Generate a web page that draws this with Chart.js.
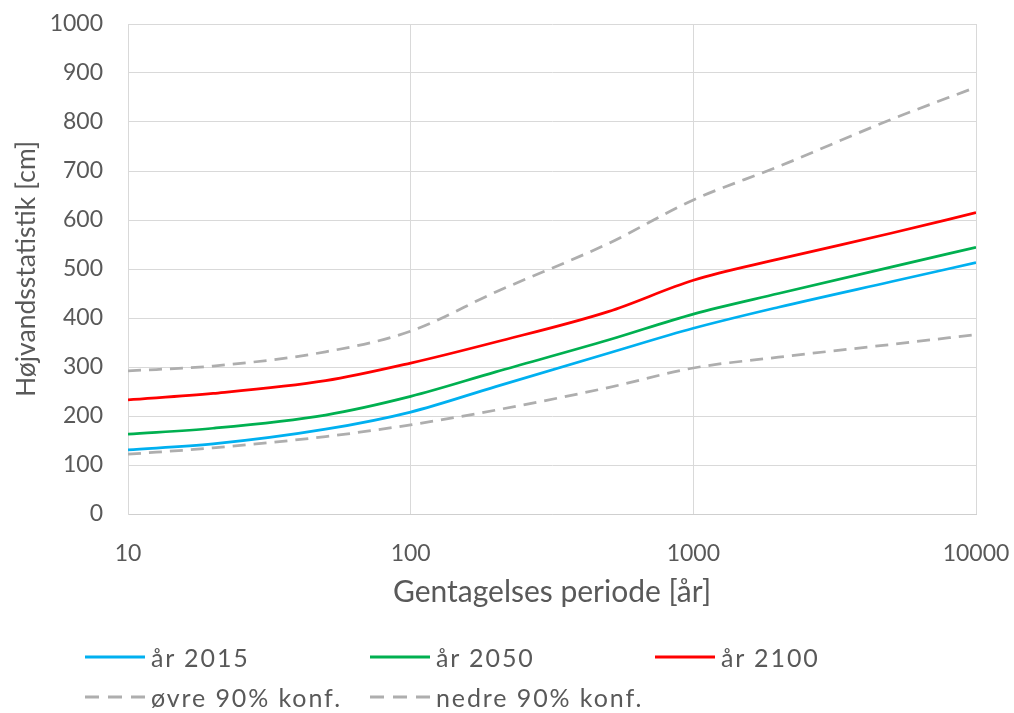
<!DOCTYPE html>
<html>
<head>
<meta charset="utf-8">
<script src="https://cdn.jsdelivr.net/npm/chart.js@4"></script>
<style>
  body { margin: 0; background: #fff; }
  #wrap { position: relative; width: 1014px; height: 713px; }
  #legend { position: absolute; left: 85px; top: 637px; display: grid; grid-template-columns: 285px 285px 285px; font-family: Lato, sans-serif; font-size: 25px; letter-spacing: 1.9px; color: #595959; }
  .item { display: flex; align-items: center; height: 40px; white-space: nowrap; }
  .item svg { margin-right: 6px; }
</style>
</head>
<body>
<div id="wrap">
  <canvas id="chart" width="1014" height="713"></canvas>
  <div id="legend"></div>
</div>
<script>
var periods = [10, 20, 50, 100, 200, 500, 1000, 2000, 5000, 10000];
var aar2015 = [131, 143, 173, 208, 260, 328, 379, 422, 474, 513];
var aar2050 = [163, 175, 202, 240, 290, 355, 408, 450, 504, 544];
var aar2100 = [233, 246, 272, 308, 351, 413, 477, 520, 573, 615];
var oevre = [292, 302, 331, 373, 453, 552, 641, 709, 805, 871];
var nedre = [122, 135, 158, 182, 212, 258, 298, 320, 346, 366];
var xTicks = [10, 100, 1000, 10000];

var textColor = '#595959';
var font = 'Lato';

function pts(arr) {
  return periods.map(function (p, i) { return { x: p, y: arr[i] }; });
}

var ctx = document.getElementById('chart');
var myChart = new Chart(ctx, {
  type: 'line',
  data: {
    datasets: [
      { label: 'år 2015', data: pts(aar2015), borderColor: '#00b0f0' },
      { label: 'år 2050', data: pts(aar2050), borderColor: '#00b050' },
      { label: 'år 2100', data: pts(aar2100), borderColor: '#ff0000' },
      { label: 'øvre 90% konf.', data: pts(oevre), borderColor: '#aeaeae', borderDash: [13, 8] },
      { label: 'nedre 90% konf.', data: pts(nedre), borderColor: '#aeaeae', borderDash: [13, 8] }
    ]
  },
  options: {
    responsive: false,
    animation: false,
    layout: { padding: { left: 0, top: 24, right: 38, bottom: 100 } },
    elements: {
      line: { borderWidth: 2.75, cubicInterpolationMode: 'monotone', fill: false },
      point: { radius: 0 }
    },
    plugins: { legend: { display: false }, tooltip: { enabled: false } },
    scales: {
      x: {
        type: 'logarithmic',
        min: 10,
        max: 10000,
        afterBuildTicks: function (scale) {
          scale.ticks = xTicks.map(function (v) { return { value: v }; });
        },
        afterFit: function (scale) {
          scale.height = 99;
          scale.paddingLeft = 0;
          scale.paddingRight = 0;
        },
        grid: { color: '#d9d9d9', drawTicks: false },
        border: { color: '#cfcfcf' },
        ticks: {
          padding: 26,
          color: textColor,
          font: { family: font, size: 23 },
          maxRotation: 0,
          callback: function (v) { return String(v); }
        },
        title: {
          display: true,
          text: 'Gentagelses periode [år]',
          color: textColor,
          font: { family: font, size: 30 },
          padding: { top: 0, bottom: 3 }
        }
      },
      y: {
        min: 0,
        max: 1000,
        afterFit: function (scale) {
          scale.width = 128;
          scale.paddingTop = 0;
          scale.paddingBottom = 0;
        },
        grid: { color: '#d9d9d9', drawTicks: false },
        border: { color: '#d9d9d9' },
        ticks: {
          stepSize: 100,
          padding: 25,
          color: textColor,
          font: { family: font, size: 23 },
          callback: function (v) { return String(v); }
        },
        title: {
          display: true,
          text: 'Højvandsstatistik [cm]',
          color: textColor,
          font: { family: font, size: 26.5 },
          padding: { top: 11, bottom: 0 }
        }
      }
    }
  }
});

// legend built from the chart's datasets
var legend = document.getElementById('legend');
myChart.data.datasets.forEach(function (ds, i) {
  var item = document.createElement('div');
  item.className = 'item';
  var dash = ds.borderDash ? 'stroke-dasharray="14 9"' : '';
  item.innerHTML = '<svg width="60" height="6"><line x1="0" y1="3" x2="60" y2="3" stroke="' + ds.borderColor +
    '" stroke-width="3" ' + dash + '/></svg><span>' + ds.label + '</span>';
  if (i === 3) item.style.gridColumn = '1';
  legend.appendChild(item);
});
</script>
</body>
</html>
